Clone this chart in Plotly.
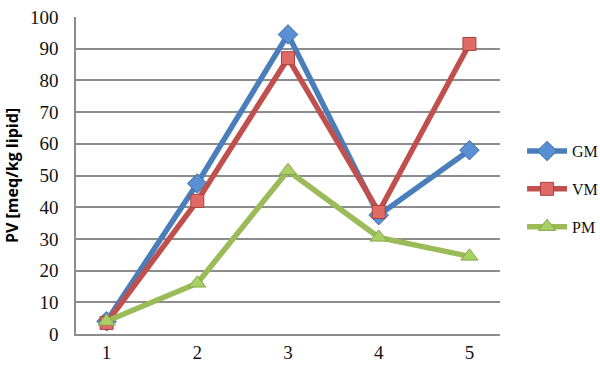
import plotly.graph_objects as go

categories = ["1", "2", "3", "4", "5"]
gm = [4, 47.5, 94.5, 37.5, 58]
vm = [3.5, 42, 87, 38.5, 91.5]
pm = [4, 16, 51.5, 30.5, 24.5]
y_ticks = [0, 10, 20, 30, 40, 50, 60, 70, 80, 90, 100]

series = [
    ("GM", gm, "#4A7EBB", "#5B8FD4", "#3F6CA3", "diamond", 15),
    ("VM", vm, "#C0504D", "#E06A66", "#A8403D", "square", 13),
    ("PM", pm, "#9BBB59", "#A9D064", "#86A54A", "triangle-up", 15),
]

fig = go.Figure()
for name, vals, lc, mc, ml, sym, sz in series:
    fig.add_trace(go.Scatter(
        x=categories, y=vals, name=name, mode="lines+markers",
        legendgroup=name,
        line=dict(color=lc, width=5.5),
        marker=dict(symbol=sym, size=sz, color=mc, line=dict(color=ml, width=1)),
    ))

fig.update_layout(
    width=600, height=371,
    margin=dict(l=76, r=100, t=17, b=37, autoexpand=False),
    paper_bgcolor="white", plot_bgcolor="white",
    showlegend=True,
    legend=dict(
        x=1.052, y=0.457, xanchor="left", yanchor="middle",
        font=dict(family="Liberation Serif", size=16, color="#111"),
        traceorder="grouped", tracegroupgap=14,
        itemwidth=40,
    ),
    xaxis=dict(
        type="category",
        showgrid=False, showline=True, linecolor="#8c8c8c", linewidth=1.5,
        ticks="", tickfont=dict(family="Liberation Serif", size=19, color="#111"),
        zeroline=False,
    ),
    yaxis=dict(
        range=[0, 100], tickvals=y_ticks,
        showgrid=True, gridcolor="#8c8c8c", gridwidth=1.5,
        showline=True, linecolor="#8c8c8c", linewidth=1.5,
        ticks="", ticklabelstandoff=12,
        tickfont=dict(family="Liberation Serif", size=19, color="#111"),
        title=dict(text="PV [meq/kg lipid]", standoff=7,
                   font=dict(family="Open Sans", size=16, color="#000", weight="bold")),
        zeroline=False,
    ),
)

fig.write_html("out.html", config={"displayModeBar": False},
               post_script="document.body.style.margin='0';")
